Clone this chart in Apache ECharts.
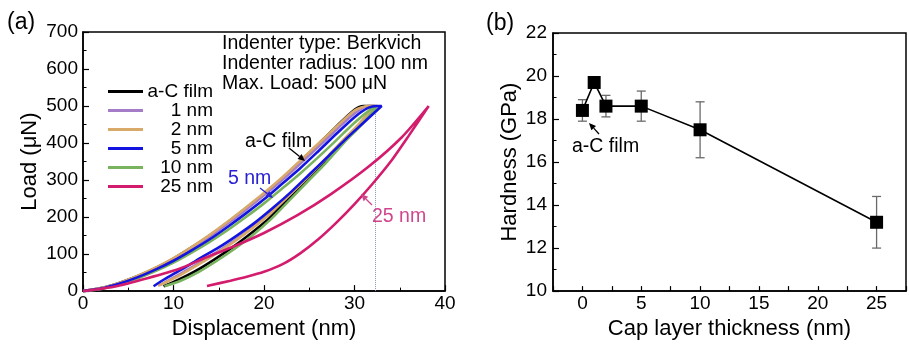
<!DOCTYPE html>
<html>
<head>
<meta charset="utf-8">
<script src="https://cdn.jsdelivr.net/npm/echarts@6/dist/echarts.min.js"></script>
<style>
html,body{margin:0;padding:0;background:#fff;}
#chart{width:909px;height:345px;}
</style>
</head>
<body>
<div id="chart"></div>
<script>
// ---------- Panel (a): load–displacement loops ----------
const seriesNames = ['a-C film', '1 nm', '2 nm', '5 nm', '10 nm', '25 nm'];

const acFilmLoad = [[0,0],[2,8],[4,22],[6,40],[8,62],[10,88],[12,118],[14,150],[16,186],[18,224],[20,262],[22,304],[24,350],[26,397],[28,445],[30,490],[31,500],[32.3,500]];
const acFilmUnload = [[32.3,500],[30.5,450],[28.5,400],[26.5,345],[24.5,295],[22.5,245],[20.5,195],[18.5,155],[16.5,118],[14.5,85],[12.5,55],[10.5,30],[8.9,13]];

const cap1Load = [[0,0],[2,8],[4,21],[6,39],[8,61],[10,87],[12,116],[14,148],[16,183],[18,220],[20,259],[22,300],[24,344],[26,390],[28,436],[30,480],[31.5,500],[32.5,500]];
const cap1Unload = [[32.5,500],[30.7,452],[28.7,404],[26.7,354],[24.7,305],[22.7,258],[20.7,212],[18.7,172],[16.7,136],[14.7,104],[12.7,74],[10.7,46],[8.5,16]];

const cap2Load = [[0,0],[2,8],[4,22],[6,41],[8,63],[10,89],[12,119],[14,152],[16,188],[18,226],[20,265],[22,307],[24,352],[26,398],[28,444],[30,488],[31.5,500],[32.3,500]];
const cap2Unload = [[32.3,500],[30.5,452],[28.5,402],[26.5,350],[24.5,300],[22.5,252],[20.5,205],[18.5,166],[16.5,130],[14.5,98],[12.5,68],[10.5,40],[8.3,14]];

const cap5Load = [[0,0],[2,7],[4,20],[6,37],[8,58],[10,82],[12,110],[14,140],[16,174],[18,210],[20,248],[22,290],[24,332],[26,378],[28,425],[30,470],[31.5,495],[32.5,500],[33,500]];
const cap5Unload = [[33,500],[31,455],[29,410],[27,362],[25,315],[23,268],[21,225],[19,185],[17,150],[15,118],[13,90],[11,60],[9,32],[7.8,13]];

const cap10Load = [[0,0],[2,6],[4,18],[6,34],[8,54],[10,77],[12,104],[14,133],[16,165],[18,200],[20,237],[22,277],[24,318],[26,362],[28,408],[30,455],[32,495],[32.5,500]];
const cap10Unload = [[32.5,500],[30.8,450],[28.8,400],[26.8,345],[24.8,295],[22.8,245],[20.8,195],[18.8,152],[16.8,115],[14.8,82],[12.8,52],[10.8,28],[9,13]];

const cap25Load = [[0,0],[3.4,12],[7.1,35],[10.8,62],[13.7,92],[16.3,117],[20,157],[23.7,205],[27.4,262],[31.5,335],[35.2,415],[38.2,500]];
const cap25Unload = [[38.2,500],[36,420],[34,350],[32,290],[30,235],[28,185],[26,140],[24,102],[22,72],[20,52],[18,38],[16.3,28],[13.7,14]];

const maxDepthMarker = 32.3;

// ---------- Panel (b): hardness vs cap layer thickness ----------
const capThickness = [0, 1, 2, 5, 10, 25];
const hardness = [18.4, 19.7, 18.6, 18.6, 17.5, 13.2];
const hardnessErr = [0.5, 0.15, 0.5, 0.7, 1.3, 1.2];

const colors = ['#000000', '#a57cc8', '#d9a96a', '#1414e0', '#7ab35e', '#d41c6e'];
const FONT = '"Liberation Sans", Arial, Helvetica, sans-serif';

const loops = [
  acFilmLoad.concat(acFilmUnload),
  cap1Load.concat(cap1Unload),
  cap2Load.concat(cap2Unload),
  cap5Load.concat(cap5Unload),
  cap10Load.concat(cap10Unload),
  cap25Load.concat(cap25Unload)
];
const drawOrder = [0, 1, 2, 4, 3, 5];

const chart = echarts.init(document.getElementById('chart'), null, {renderer: 'canvas'});

const axisCommon = {
  axisLine: {show: true, onZero: false, lineStyle: {color: '#000', width: 1.5}},
  axisTick: {show: true, inside: true, length: 6, lineStyle: {color: '#000', width: 1.2}},
  minorTick: {show: true, splitNumber: 2, length: 3.5, lineStyle: {color: '#000', width: 1}},
  splitLine: {show: false},
  axisLabel: {color: '#000', fontSize: 19, fontFamily: FONT, showMinLabel: true, showMaxLabel: true, hideOverlap: false},
  nameTextStyle: {color: '#000', fontSize: 22, fontFamily: FONT},
  nameLocation: 'middle'
};

const lineSeries = drawOrder.map(i => ({
  name: seriesNames[i],
  type: 'line',
  xAxisIndex: 0, yAxisIndex: 0,
  data: loops[i],
  showSymbol: false,
  smooth: 0.25,
  color: colors[i],
  lineStyle: {color: colors[i], width: 2.6},
  z: 2 + drawOrder.indexOf(i),
  markLine: i === 5 ? {
    silent: true, symbol: 'none', animation: false,
    label: {show: false},
    lineStyle: {type: 'dotted', color: '#8798b4', width: 1},
    data: [[{coord: [maxDepthMarker, 0]}, {coord: [maxDepthMarker, 500]}]]
  } : undefined
}));

const errData = capThickness.map((t, i) => [t, hardness[i] - hardnessErr[i], hardness[i] + hardnessErr[i]]);

function arrow(x1, y1, x2, y2, color) {
  const ang = Math.atan2(y2 - y1, x2 - x1);
  const L = 7, W = 3.2;
  const bx = x2 - L * Math.cos(ang), by = y2 - L * Math.sin(ang);
  const px = -Math.sin(ang) * W, py = Math.cos(ang) * W;
  return [
    {type: 'line', shape: {x1: x1, y1: y1, x2: bx, y2: by}, style: {stroke: color, lineWidth: 1.3}, z: 50},
    {type: 'polygon', shape: {points: [[x2, y2], [bx + px, by + py], [bx - px, by - py]]}, style: {fill: color}, z: 50}
  ];
}

const textStyle = (t, x, y, color, size, align) => ({
  type: 'text', x: x, y: y, z: 50,
  style: {text: t, fill: color, font: (size || 19) + 'px ' + FONT, textAlign: align || 'left', textVerticalAlign: 'middle'}
});

const option = {
  animation: false,
  backgroundColor: '#fff',
  grid: [
    {left: 83, right: 464, top: 32, bottom: 45, show: true, borderColor: '#000', borderWidth: 1.5, backgroundColor: 'transparent'},
    {left: 553, right: -6, top: 33, bottom: 42, show: true, borderColor: '#000', borderWidth: 1.5, backgroundColor: 'transparent'}
  ],
  legend: {
    data: seriesNames,
    left: 103, top: 77, orient: 'vertical',
    icon: 'rect', itemWidth: 35, itemHeight: 3, itemGap: 0,
    textStyle: {color: '#000', fontSize: 19, fontFamily: FONT,
      rich: {t: {width: 65, align: 'right', fontSize: 19, lineHeight: 19, fontFamily: FONT, color: '#000'}}},
    formatter: n => '{t|' + n + '}',
    selectedMode: false
  },
  xAxis: [
    Object.assign({}, axisCommon, {
      gridIndex: 0, type: 'value', min: 0, max: 40, interval: 10,
      name: 'Displacement (nm)', nameGap: 21,
      axisLabel: Object.assign({}, axisCommon.axisLabel, {margin: 3})
    }),
    Object.assign({}, axisCommon, {
      gridIndex: 1, type: 'value', min: -2.5, max: 27.5, interval: 2.5,
      name: 'Cap layer thickness (nm)', nameGap: 22,
      minorTick: {show: false},
      axisTick: {show: true, inside: true, length: 5, lineStyle: {color: '#000', width: 1.2}},
      axisLabel: Object.assign({}, axisCommon.axisLabel, {margin: 3,
        formatter: v => (Math.abs(v % 5) < 1e-9 ? String(v) : '')})
    })
  ],
  yAxis: [
    Object.assign({}, axisCommon, {
      gridIndex: 0, type: 'value', min: 0, max: 700, interval: 100,
      name: 'Load (\u03bcN)', nameGap: 42,
      axisLabel: Object.assign({}, axisCommon.axisLabel, {margin: 5})
    }),
    Object.assign({}, axisCommon, {
      gridIndex: 1, type: 'value', min: 10, max: 22, interval: 2,
      name: 'Hardness (GPa)', nameGap: 32,
      axisLabel: Object.assign({}, axisCommon.axisLabel, {margin: 6})
    })
  ],
  series: lineSeries.concat([
    {
      type: 'custom', xAxisIndex: 1, yAxisIndex: 1,
      data: errData, encode: {x: 0, y: [1, 2]}, z: 3, silent: true,
      renderItem: function (params, api) {
        const x = api.value(0);
        const lo = api.coord([x, api.value(1)]);
        const hi = api.coord([x, api.value(2)]);
        const c = 4.5;
        const st = {stroke: '#6a6a6a', lineWidth: 1.3};
        return {type: 'group', children: [
          {type: 'line', shape: {x1: lo[0], y1: lo[1], x2: hi[0], y2: hi[1]}, style: st},
          {type: 'line', shape: {x1: lo[0] - c, y1: lo[1], x2: lo[0] + c, y2: lo[1]}, style: st},
          {type: 'line', shape: {x1: hi[0] - c, y1: hi[1], x2: hi[0] + c, y2: hi[1]}, style: st}
        ]};
      }
    },
    {
      name: 'Hardness', type: 'line', xAxisIndex: 1, yAxisIndex: 1,
      data: capThickness.map((t, i) => [t, hardness[i]]),
      symbol: 'rect', symbolSize: 13, showSymbol: true,
      itemStyle: {color: '#000'}, lineStyle: {color: '#000', width: 1.6}, z: 5
    }
  ]),
  graphic: [
    textStyle('(a)', 7, 23, '#000', 23),
    textStyle('(b)', 486, 24, '#000', 23),
    {type: 'text', left: 222, top: 34, z: 50,
      style: {text: 'Indenter type: Berkvich\nIndenter radius: 100 nm\nMax. Load: 500 \u03bcN', fill: '#000',
        font: '19.5px ' + FONT, lineHeight: 20}},
    textStyle('a-C film', 245, 142, '#000', 19.5),
    textStyle('5 nm', 228, 179, '#2a22d2', 19.5),
    textStyle('25 nm', 372, 217, '#d0468e', 19.5),
    textStyle('a-C film', 572, 147, '#000', 19.5)
  ].concat(arrow(289, 148, 305, 161, '#000'))
   .concat(arrow(260, 188, 273, 198, '#2a22d2'))
   .concat(arrow(372, 205, 361, 194, '#d0468e'))
   .concat(arrow(599, 134, 589, 123, '#000'))
};

chart.setOption(option);
</script>
</body>
</html>
